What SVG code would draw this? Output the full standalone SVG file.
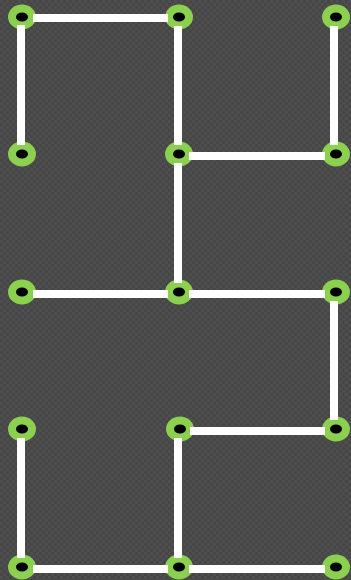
<svg xmlns="http://www.w3.org/2000/svg" width="351" height="580" viewBox="0 0 351 580">
<defs>
<pattern id="chk" width="6" height="6" patternUnits="userSpaceOnUse">
<rect width="6" height="6" fill="#464646"/>
<rect width="3" height="3" fill="#4e4e4e"/>
<rect x="3" y="3" width="3" height="3" fill="#4e4e4e"/>
</pattern>
<style>
.ring{fill:#8bd04e}
.hole{fill:#000}
.e{stroke:#fff;stroke-width:8;fill:none}
</style>
</defs>
<rect width="351" height="580" fill="url(#chk)"/>
<g id="n11"><ellipse class="ring" cx="22" cy="17" rx="14" ry="12.5"/><ellipse class="hole" cx="22" cy="17" rx="6" ry="4.5"/></g>
<g id="n12"><ellipse class="ring" cx="179" cy="17" rx="14" ry="12.5"/><ellipse class="hole" cx="179" cy="17" rx="6" ry="4.5"/></g>
<g id="n13"><ellipse class="ring" cx="336" cy="17" rx="14" ry="12.5"/><ellipse class="hole" cx="336" cy="17" rx="6" ry="4.5"/></g>
<g id="n21"><ellipse class="ring" cx="22" cy="154" rx="14" ry="12.5"/><ellipse class="hole" cx="22" cy="154" rx="6" ry="4.5"/></g>
<g id="n22"><ellipse class="ring" cx="179" cy="154" rx="14" ry="12.5"/><ellipse class="hole" cx="179" cy="154" rx="6" ry="4.5"/></g>
<g id="n23"><ellipse class="ring" cx="336" cy="154" rx="14" ry="12.5"/><ellipse class="hole" cx="336" cy="154" rx="6" ry="4.5"/></g>
<g id="n31"><ellipse class="ring" cx="22" cy="292" rx="14" ry="12.5"/><ellipse class="hole" cx="22" cy="292" rx="6" ry="4.5"/></g>
<g id="n32"><ellipse class="ring" cx="179" cy="292" rx="14" ry="12.5"/><ellipse class="hole" cx="179" cy="292" rx="6" ry="4.5"/></g>
<g id="n33"><ellipse class="ring" cx="336" cy="292" rx="14" ry="12.5"/><ellipse class="hole" cx="336" cy="292" rx="6" ry="4.5"/></g>
<g id="n41"><ellipse class="ring" cx="22" cy="429" rx="14" ry="12.5"/><ellipse class="hole" cx="22" cy="429" rx="6" ry="4.5"/></g>
<g id="n42"><ellipse class="ring" cx="180" cy="429" rx="14" ry="12.5"/><ellipse class="hole" cx="180" cy="429" rx="6" ry="4.5"/></g>
<g id="n43"><ellipse class="ring" cx="336" cy="429" rx="14" ry="12.5"/><ellipse class="hole" cx="336" cy="429" rx="6" ry="4.5"/></g>
<g id="n51"><ellipse class="ring" cx="22" cy="567" rx="14" ry="12.5"/><ellipse class="hole" cx="22" cy="567" rx="6" ry="4.5"/></g>
<g id="n52"><ellipse class="ring" cx="179" cy="567" rx="14" ry="12.5"/><ellipse class="hole" cx="179" cy="567" rx="6" ry="4.5"/></g>
<g id="n53"><ellipse class="ring" cx="336" cy="567" rx="14" ry="12.5"/><ellipse class="hole" cx="336" cy="567" rx="6" ry="4.5"/></g>
<g id="connectors" class="e">
<line x1="33" y1="18" x2="168" y2="18"/>
<line x1="21" y1="25" x2="21" y2="145"/>
<line x1="178" y1="26" x2="178" y2="145"/>
<line x1="334" y1="26" x2="334" y2="145"/>
<line x1="189" y1="156" x2="325" y2="156"/>
<line x1="178" y1="163" x2="178" y2="283"/>
<line x1="33" y1="294" x2="168" y2="294"/>
<line x1="189" y1="294" x2="325" y2="294"/>
<line x1="334" y1="301" x2="334" y2="420"/>
<line x1="190" y1="431" x2="325" y2="431"/>
<line x1="21" y1="438" x2="21" y2="558"/>
<line x1="178" y1="438" x2="178" y2="558"/>
<line x1="33" y1="569" x2="168" y2="569"/>
<line x1="189" y1="569" x2="325" y2="569"/>
</g>
</svg>
